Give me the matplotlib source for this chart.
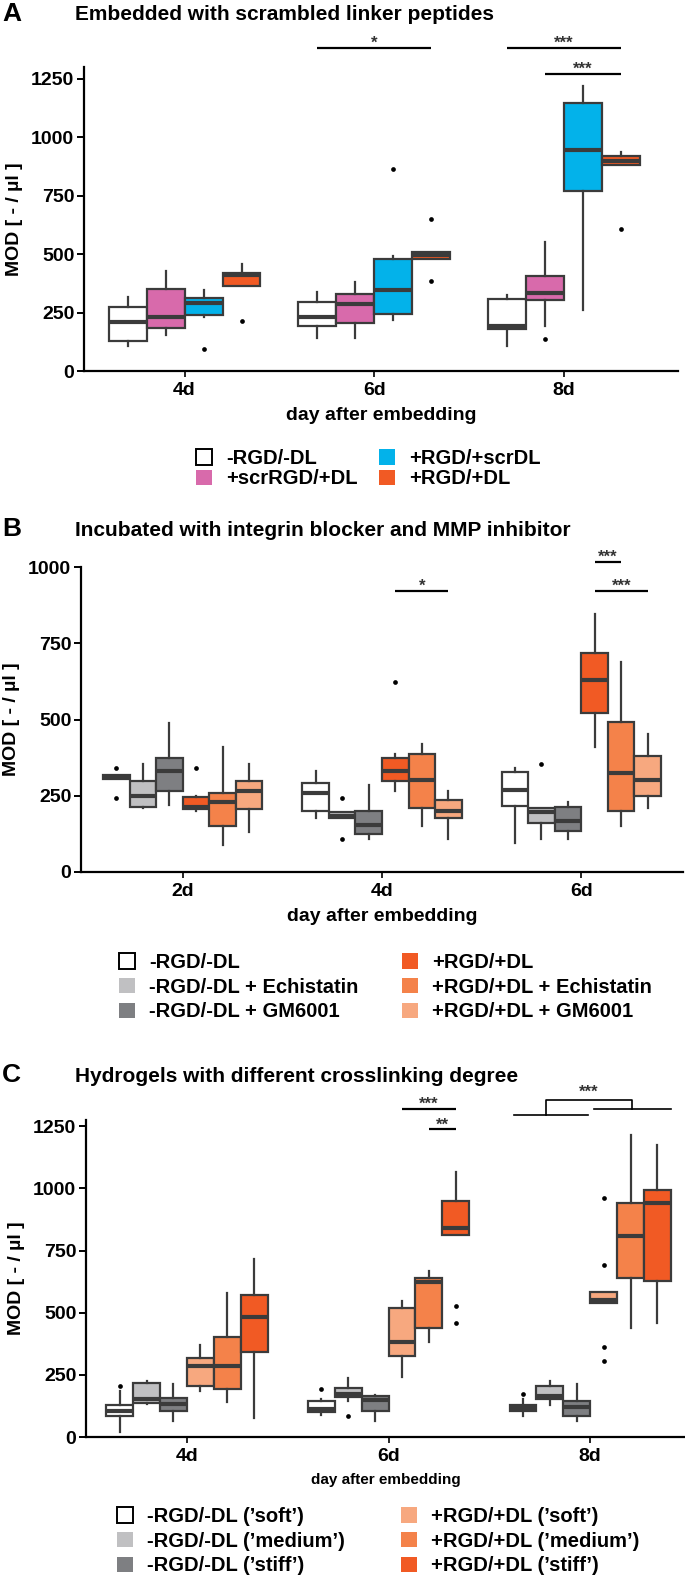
import numpy as np
import matplotlib.pyplot as plt
from matplotlib.patches import Patch

plt.rcParams['font.family'] = ['Liberation Sans', 'DejaVu Sans']
plt.rcParams['font.weight'] = 'bold'

W, H = 685, 1578  # figure size in pixels

# ---------------- Panel A data (rows = group, cols = day) ----------------
A_days = ['4d', '6d', '8d']
A_groups = ['-RGD/-DL', '+scrRGD/+DL', '+RGD/+scrDL', '+RGD/+DL']
A_colors = ['#ffffff', '#d86aab', '#03b2ea', '#f15a24']
A_med = [[208, 229, 191], [229, 285, 334], [289, 345, 945], [411, 494, 900]]
A_q1 = [[128, 194, 180], [183, 205, 303], [239, 243, 770], [362, 480, 883]]
A_q3 = [[274, 295, 306], [351, 330, 406], [313, 480, 1144], [418, 508, 920]]
A_wlo = [[107, 141, 107], [152, 141, 194], [232, 218, 261], [362, 480, 883]]
A_whi = [[316, 337, 327], [427, 380, 550], [348, 492, 1218], [459, 508, 938]]
A_fliers = [[[], [], []], [[], [], [138]], [[96], [862], []], [[215], [651, 383], [606]]]

# ---------------- Panel B data ----------------
B_days = ['2d', '4d', '6d']
B_groups = ['-RGD/-DL', '-RGD/-DL + Echistatin', '-RGD/-DL + GM6001',
            '+RGD/+DL', '+RGD/+DL + Echistatin', '+RGD/+DL + GM6001']
B_colors = ['#ffffff', '#c0c0c2', '#7e7f82', '#f15a24', '#f4824a', '#f7a87f']
B_med = [[312, 260, 270], [248, 185, 196], [332, 154, 168],
         [214, 332, 628], [228, 303, 326], [265, 199, 303]]
B_q1 = [[304, 199, 217], [212, 176, 161], [264, 123, 133],
        [207, 297, 522], [151, 210, 201], [207, 177, 248]]
B_q3 = [[317, 293, 329], [297, 196, 210], [375, 199, 212],
        [245, 375, 717], [258, 388, 491], [297, 236, 380]]
B_wlo = [[304, 176, 96], [210, 176, 109], [220, 109, 109],
         [201, 264, 411], [87, 152, 152], [130, 109, 209]]
B_whi = [[317, 332, 342], [353, 196, 210], [487, 286, 230],
         [250, 386, 845], [410, 421, 688], [353, 264, 453]]
B_fliers = [[[342, 242], [], []], [[], [242, 109], [353]], [[], [], []],
            [[342], [623], []], [[], [], []], [[], [], []]]

# ---------------- Panel C data ----------------
C_days = ['4d', '6d', '8d']
C_groups = ["-RGD/-DL (’soft’)", "-RGD/-DL (’medium’)", "-RGD/-DL (’stiff’)",
            "+RGD/+DL (’soft’)", "+RGD/+DL (’medium’)", "+RGD/+DL (’stiff’)"]
C_colors = ['#ffffff', '#c0c0c2', '#7e7f82', '#f7a87f', '#f4824a', '#f15a24']
C_med = [[105, 111, 116], [151, 173, 164], [131, 147, 120],
         [284, 384, 553], [284, 623, 807], [484, 840, 940]]
C_q1 = [[83, 100, 104], [137, 160, 151], [104, 104, 84],
        [204, 327, 537], [193, 440, 640], [340, 813, 627]]
C_q3 = [[129, 143, 129], [217, 196, 207], [156, 164, 143],
        [317, 517, 584], [404, 640, 940], [573, 949, 993]]
C_wlo = [[20, 87, 84], [133, 143, 129], [63, 63, 63],
         [187, 240, 537], [140, 383, 440], [76, 813, 460]]
C_whi = [[184, 151, 151], [225, 237, 227], [213, 167, 213],
         [369, 547, 584], [580, 669, 1216], [716, 1067, 1174]]
C_fliers = [[[204], [193], [173]], [[], [84], []], [[], [], []],
            [[], [], [960, 693, 360, 307]], [[], [], []], [[], [527, 460], []]]

EDGE = '#3b3b3b'
fig = plt.figure(figsize=(W / 100, H / 100), dpi=100)


def add_axes(left, top, right, bottom):
    return fig.add_axes([left / W, 1 - bottom / H, (right - left) / W, (bottom - top) / H])


def draw_boxes(ax, med, q1, q3, wlo, whi, fliers, colors):
    n = len(med)
    w = 0.8 / n
    stats, pos, cols = [], [], []
    for h in range(n):
        for d in range(len(med[h])):
            stats.append(dict(med=med[h][d], q1=q1[h][d], q3=q3[h][d],
                              whislo=wlo[h][d], whishi=whi[h][d], fliers=fliers[h][d]))
            pos.append(d + (h - (n - 1) / 2) * w)
            cols.append(colors[h])
    art = ax.bxp(stats, positions=pos, widths=w, patch_artist=True, showcaps=False,
                 boxprops=dict(edgecolor=EDGE, linewidth=1.6),
                 whiskerprops=dict(color=EDGE, linewidth=1.6),
                 medianprops=dict(color=EDGE, linewidth=3.0, solid_capstyle='butt'),
                 flierprops=dict(marker='o', markersize=3.4, markerfacecolor='black',
                                 markeredgecolor='none'),
                 manage_ticks=False)
    for b, c in zip(art['boxes'], cols):
        b.set_facecolor(c)


def style(ax, days, ylim, yticks, xlim, xlabel, xlsize, labelpad):
    ax.set_xlim(*xlim)
    ax.set_ylim(*ylim)
    ax.set_yticks(yticks)
    ax.set_xticks(range(len(days)))
    ax.set_xticklabels(days)
    for s in ['top', 'right']:
        ax.spines[s].set_visible(False)
    for s in ['left', 'bottom']:
        ax.spines[s].set_linewidth(1.6)
    ax.tick_params(axis='y', length=5, width=1.4, labelsize=14, pad=2)
    ax.tick_params(axis='x', length=4, width=1.2, labelsize=14, pad=4)
    ax.set_ylabel('MOD [ - / µl ]', fontsize=14, fontweight='bold', labelpad=6)
    ax.set_xlabel(xlabel, fontsize=xlsize, fontweight='bold', labelpad=labelpad)


def sig(ax, x0, x1, y, text, lw=1.6):
    ax.plot([x0, x1], [y, y], color='black', lw=lw, clip_on=False, solid_capstyle='butt')
    ax.annotate(text, xy=((x0 + x1) / 2, y), xytext=(0, 0), textcoords='offset points',
                ha='center', va='baseline', fontsize=12, color='#333333', annotation_clip=False)


def legend_cols(handles, labels, x1, x2, ytop, spacing):
    half = len(labels) // 2
    for idx, x in ((0, x1), (1, x2)):
        hs = handles[idx * half:(idx + 1) * half]
        ls = labels[idx * half:(idx + 1) * half]
        fig.legend(hs, ls, loc='upper left', bbox_to_anchor=(x / W, 1 - ytop / H),
                   frameon=False, handlelength=0.8, handleheight=0.8, handletextpad=0.7,
                   labelspacing=spacing, borderpad=0, borderaxespad=0,
                   prop=dict(weight='bold', size=14.5))


def handles_for(colors):
    return [Patch(facecolor=c, edgecolor='black' if c == '#ffffff' else 'none', linewidth=1.4)
            for c in colors]


# ---------------- Panel A ----------------
axA = add_axes(84, 67, 678, 371)
draw_boxes(axA, A_med, A_q1, A_q3, A_wlo, A_whi, A_fliers, A_colors)
style(axA, A_days, (0, 1300), [0, 250, 500, 750, 1000, 1250], (-0.53, 2.6),
      'day after embedding', 14, 6)
sig(axA, 0.7, 1.3, 1383, '*')
sig(axA, 1.7, 2.3, 1383, '***')
sig(axA, 1.9, 2.3, 1271, '***')
fig.text(2 / W, 1 - 14 / H, 'A', fontsize=19, fontweight='bold', va='center')
fig.text(75 / W, 1 - 15 / H, 'Embedded with scrambled linker peptides', fontsize=15,
         fontweight='bold', va='center')
legend_cols(handles_for(A_colors), A_groups, 196, 379, 449, 0.07)

# ---------------- Panel B ----------------
axB = add_axes(81, 567, 683, 872)
draw_boxes(axB, B_med, B_q1, B_q3, B_wlo, B_whi, B_fliers, B_colors)
style(axB, B_days, (0, 1000), [0, 250, 500, 750, 1000], (-0.51, 2.51),
      'day after embedding', 14, 6)
sig(axB, 1.067, 1.333, 921, '*')
sig(axB, 2.067, 2.2, 1016, '***')
sig(axB, 2.067, 2.333, 921, '***')
fig.text(2 / W, 1 - 529 / H, 'B', fontsize=19, fontweight='bold', va='center')
fig.text(75 / W, 1 - 530 / H, 'Incubated with integrin blocker and MMP inhibitor', fontsize=15,
         fontweight='bold', va='center')
legend_cols(handles_for(B_colors), B_groups, 119, 402, 953, 0.28)

# ---------------- Panel C ----------------
axC = add_axes(86, 1120, 685, 1437)
draw_boxes(axC, C_med, C_q1, C_q3, C_wlo, C_whi, C_fliers, C_colors)
style(axC, C_days, (0, 1275), [0, 250, 500, 750, 1000, 1250], (-0.5, 2.47),
      'day after embedding', 11, 6)
sig(axC, 1.067, 1.333, 1321, '***')
sig(axC, 1.2, 1.333, 1237, '**')
# bracket between the two 8d groups
axC.plot([1.62, 1.99], [1297, 1297], color='black', lw=1.2, clip_on=False)
axC.plot([2.02, 2.40], [1321, 1321], color='black', lw=1.2, clip_on=False)
axC.plot([1.78, 1.78, 2.207, 2.207], [1297, 1357, 1357, 1321], color='black', lw=1.2,
         clip_on=False)
axC.annotate('***', xy=(1.99, 1357), xytext=(0, 2), textcoords='offset points', ha='center',
             va='baseline', fontsize=12, color='#333333', annotation_clip=False)
fig.text(2 / W, 1 - 1075 / H, 'C', fontsize=19, fontweight='bold', va='center')
fig.text(75 / W, 1 - 1076 / H, 'Hydrogels with different crosslinking degree', fontsize=15,
         fontweight='bold', va='center')
legend_cols(handles_for(C_colors), C_groups, 117, 401, 1507, 0.28)

fig.savefig('out.png', dpi=100)
